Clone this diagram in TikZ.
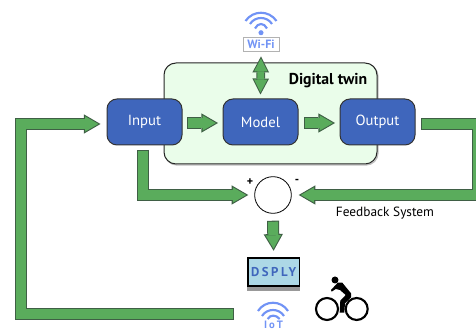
\documentclass[tikz,border=0pt]{standalone}
\usepackage{fontspec}
\setmainfont{PT Sans}
\usetikzlibrary{arrows.meta,calc}
\definecolor{fatgreen}{HTML}{5AAC5C}
\definecolor{fatedge}{HTML}{3F5F45}
\definecolor{boxblue}{HTML}{3F66BC}
\definecolor{twinfill}{HTML}{EAFDEA}
\definecolor{wifiblue}{HTML}{7193F5}
\definecolor{lcd}{HTML}{ADD8E6}
\tikzset{
  x=0.75pt,y=-0.75pt,
  blockbox/.style={draw=black!80,line width=0.75pt,fill=boxblue,rounded corners=7.5pt,minimum width=56.25pt,minimum height=34.5pt,text=white,font=\fontsize{11}{12}\selectfont,inner sep=0pt},
  fatouter/.style={line join=miter,draw=fatedge,line width=9pt,-{Triangle[length=12.5pt,width=14.5pt,line width=0pt]}},
  fatinner/.style={line join=miter,draw=fatgreen,line width=7.5pt,shorten >=1.6pt,shorten <=0.8pt,-{Triangle[length=10pt,width=11.6pt,line width=0pt]}},
  dblouter/.style={draw=fatedge,line width=6.5pt,{Triangle[length=12pt,width=12.5pt,line width=0pt]}-{Triangle[length=12pt,width=12.5pt,line width=0pt]}},
  dblinner/.style={draw=fatgreen,line width=5pt,shorten >=1.6pt,shorten <=1.6pt,{Triangle[length=9.6pt,width=10pt,line width=0pt]}-{Triangle[length=9.6pt,width=10pt,line width=0pt]}},
  wifiarc/.style={draw=wifiblue,line width=1.6pt,line cap=butt},
}
\newcommand\fatpath[1]{\draw[fatouter] #1; \draw[fatinner] #1;}
\begin{document}
\begin{tikzpicture}
\useasboundingbox (0,0) rectangle (476,331);
\clip (0,0) rectangle (476,331);
% digital twin panel
\draw[black!25,line width=1pt,rounded corners=9pt] (165,64.5) rectangle (378,165);
\node[draw=black!85,line width=0.75pt,fill=twinfill,rounded corners=9pt,minimum width=159.75pt,minimum height=75.75pt,inner sep=0pt] (twin) at (270.5,113.5) {};
\node[font=\bfseries\fontsize{11.8}{12}\selectfont] (twinlabel) at (328,81) {Digital twin};
% blocks
\node[blockbox] (input) at (144.5,122) {Input};
\node[blockbox] (model) at (260.5,122) {Model};
\node[blockbox] (output) at (377.5,122) {Output};
% sum
\node[circle,draw=black,line width=0.6pt,fill=white,minimum size=27.5pt,inner sep=0pt] (sum) at (273,195) {};
\node[font=\bfseries\fontsize{9}{9}\selectfont] (plus) at (250,182) {+};
\node[font=\bfseries\fontsize{9}{9}\selectfont] (minus) at (297,181) {-};
% display
\fill[black!40] (247,262) rectangle (300.3,290.7);
\node[draw=black,line width=1.1pt,fill=lcd,minimum width=38.5pt,minimum height=21pt,inner sep=0pt,text=boxblue,font=\bfseries\fontsize{9.6}{11}\selectfont] (dsply) at (273.6,272) {\addfontfeature{LetterSpace=20}DSPLY};
% wifi
\fill[wifiblue] (261,32.7) circle (1.9pt);
\draw[wifiarc] (255,28.5) .. controls (258,22.5) and (264,22.5) .. (267,28.5);
\draw[wifiarc] (250,24) .. controls (255,16) and (267,16) .. (272,24);
\draw[wifiarc] (245.5,21) .. controls (253,10) and (269,10) .. (276.5,21);
\node[draw=black!30,line width=0.6pt,fill=white,text=wifiblue,minimum width=27pt,minimum height=10.5pt,inner sep=0pt,font=\bfseries\fontsize{9}{9}\selectfont] (wifi) at (261,44) {Wi-Fi};
% iot
\draw[wifiarc] (267.7,319) .. controls (270,314.5) and (276,314.5) .. (279.7,319);
\draw[wifiarc] (262,316) .. controls (267,308) and (279,308) .. (284,316);
\draw[wifiarc] (258,311) .. controls (265,300) and (281,300) .. (288,311);
\node[text=wifiblue,inner sep=0pt,font=\bfseries\fontsize{8}{8}\selectfont] (iot) at (273.5,324.5) {\addfontfeature{LetterSpace=18}IoT};
% connectors
\coordinate (ab) at (187,123);
\coordinate (ba) at (218,123);
\fatpath{(ab) -- (ba)}
\coordinate (bc) at (304,123);
\coordinate (cb) at (335,123);
\fatpath{(bc) -- (cb)}
\coordinate (infrom) at (143,150);
\coordinate (inbend) at (143,195);
\fatpath{(infrom) -- (inbend) -- ($(sum.west)+(-6,0)$)}
\coordinate (outfrom) at (421,124);
\coordinate (outa) at (478,124);
\coordinate (outb) at (478,195);
\fatpath{(outfrom) -- (outa) -- (outb) -- ($(sum.east)+(7,0)$)}
\fatpath{($(sum.south)+(0,7)$) -- ($(dsply.north)+(0,-6.5)$)}
\coordinate (lpa) at (234,314.5);
\coordinate (lpb) at (21,314.5);
\coordinate (lpc) at (21,124);
\fatpath{(lpa) -- (lpb) -- (lpc) -- ($(input.west)+(-6,2)$)}
\draw[dblouter] ($(wifi.south)+(0,5)$) -- ($(model.north)+(0,-4)$);
\draw[dblinner] ($(wifi.south)+(0,5)$) -- ($(model.north)+(0,-4)$);
% cyclist
\draw[black,line width=1.6pt] (327,309) circle (11) (356.7,309) circle (11);
\fill[black] (335,280) circle (3.5);
\fill[black] (331,290) -- (337.7,282.7) -- (342.3,282.7) -- (351,293.3) -- (351,297.3) -- (345,303.3) -- (344.3,312.7) -- (339.7,312.7) -- (340.3,300.7) -- (345.7,295) -- (340,290) -- (335.7,289) -- (331.7,291.7) -- cycle;
% feedback label
\node[font=\fontsize{10}{10}\selectfont] (fblabel) at (385,213) {Feedback System};
\end{tikzpicture}
\end{document}
